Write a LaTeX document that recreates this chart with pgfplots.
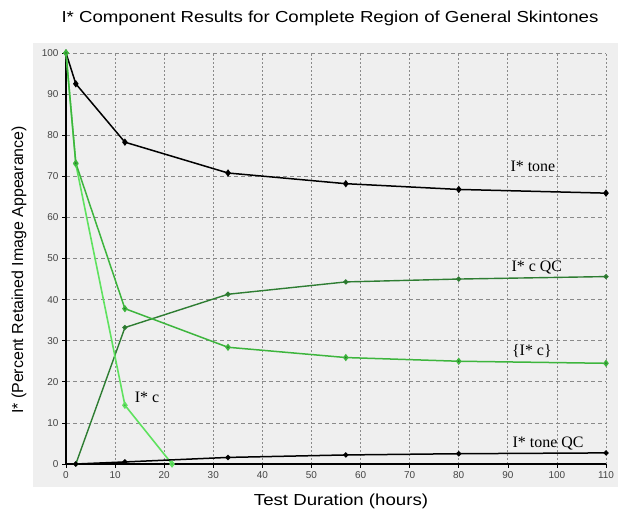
\documentclass[border=0pt]{standalone}
\usepackage{pgfplots}
\pgfplotsset{compat=1.18}
\usepackage{fontspec}
\setmainfont{Liberation Sans}
\newfontfamily\serifann{Liberation Serif}
\definecolor{panel}{HTML}{EFEFEF}
\definecolor{gridc}{HTML}{8A8A8A}
\definecolor{cqc}{HTML}{2E7D32}
\definecolor{cbr}{HTML}{3DB53D}
\definecolor{cc}{HTML}{5FE25F}
\definecolor{tickc}{HTML}{444444}
\begin{document}
\begin{tikzpicture}[x=1bp,y=1bp]
\path[use as bounding box] (0,0) rectangle (618,515);
\fill[panel] (33,28) rectangle (618,472);
\node[font=\fontsize{16}{18}\selectfont, xscale=1.17] at (330,497) {I* Component Results for Complete Region of General Skintones};
\node[font=\fontsize{16}{18}\selectfont, xscale=1.17] at (341,14) {Test Duration (hours)};
\node[font=\fontsize{16}{18}\selectfont,rotate=90] at (19,245) {I* (Percent Retained Image Appearance)};
\begin{axis}[
  at={(66bp,51bp)}, anchor=south west,
  scale only axis, width=540bp, height=411bp,
  xmin=0, xmax=110, ymin=0, ymax=100,
  enlargelimits=false,
  axis lines*=left,
  x axis line style={line width=1.3bp, black},
  y axis line style={line width=2.2bp, black},
  xtick={0,10,...,110}, ytick={0,10,...,100},
  tick align=outside, major tick length=4bp,
  tick style={black, line width=0.6bp},
  tick label style={font=\fontsize{10}{11}\selectfont, text=tickc},
  /pgf/number format/assume math mode=true,
  grid=major,
  x grid style={gridc, line width=0.7bp, dash pattern=on 2bp off 2bp},
  y grid style={gridc, line width=0.7bp, dash pattern=on 4bp off 3bp},
  clip=false,
]
\addplot[black, line width=1.5bp, mark=diamond*, mark size=2.5bp, mark options={solid,fill=black}] coordinates {
 (0,100) (2,92.5) (12,78.3) (33,70.8) (57,68.2) (80,66.8) (110,65.9)};
\addplot[cqc, line width=1.4bp, mark=*, mark size=1.8bp, mark options={solid,fill=cqc!80!black}] coordinates {
 (2,0) (12,33.2) (33,41.3) (57,44.3) (80,45.0) (110,45.6)};
\addplot[cc, line width=1.6bp, mark=diamond*, mark size=2.5bp, mark options={solid,fill=cc!70!black}] coordinates {
 (0,100) (2,73) (12,14.3) (21.6,0)};
\addplot[cbr, line width=1.5bp, mark=diamond*, mark size=2.5bp, mark options={solid,fill=cbr!60!black}] coordinates {
 (0,100) (2,73.2) (12,37.8) (33,28.4) (57,25.9) (80,25.0) (110,24.5)};
\addplot[black, line width=1.5bp, mark=*, mark size=1.8bp, mark options={solid,fill=black}] coordinates {
 (2,0) (12,0.5) (33,1.6) (57,2.2) (80,2.5) (110,2.7)};
\draw[black, line width=1.5bp] (axis cs:0,0) -- (axis cs:2,0);
\node[font=\serifann\fontsize{16}{18}\selectfont] at (axis cs:95.1,72.3) {I* tone};
\node[font=\serifann\fontsize{16}{18}\selectfont] at (axis cs:95.9,47.9) {I* c QC};
\node[font=\serifann\fontsize{16}{18}\selectfont] at (axis cs:94.9,27.6) {\{I* c\}};
\node[font=\serifann\fontsize{16}{18}\selectfont] at (axis cs:16.5,16.1) {I* c};
\node[font=\serifann\fontsize{16}{18}\selectfont] at (axis cs:98.2,5.1) {I* tone QC};
\end{axis}
\end{tikzpicture}
\end{document}
